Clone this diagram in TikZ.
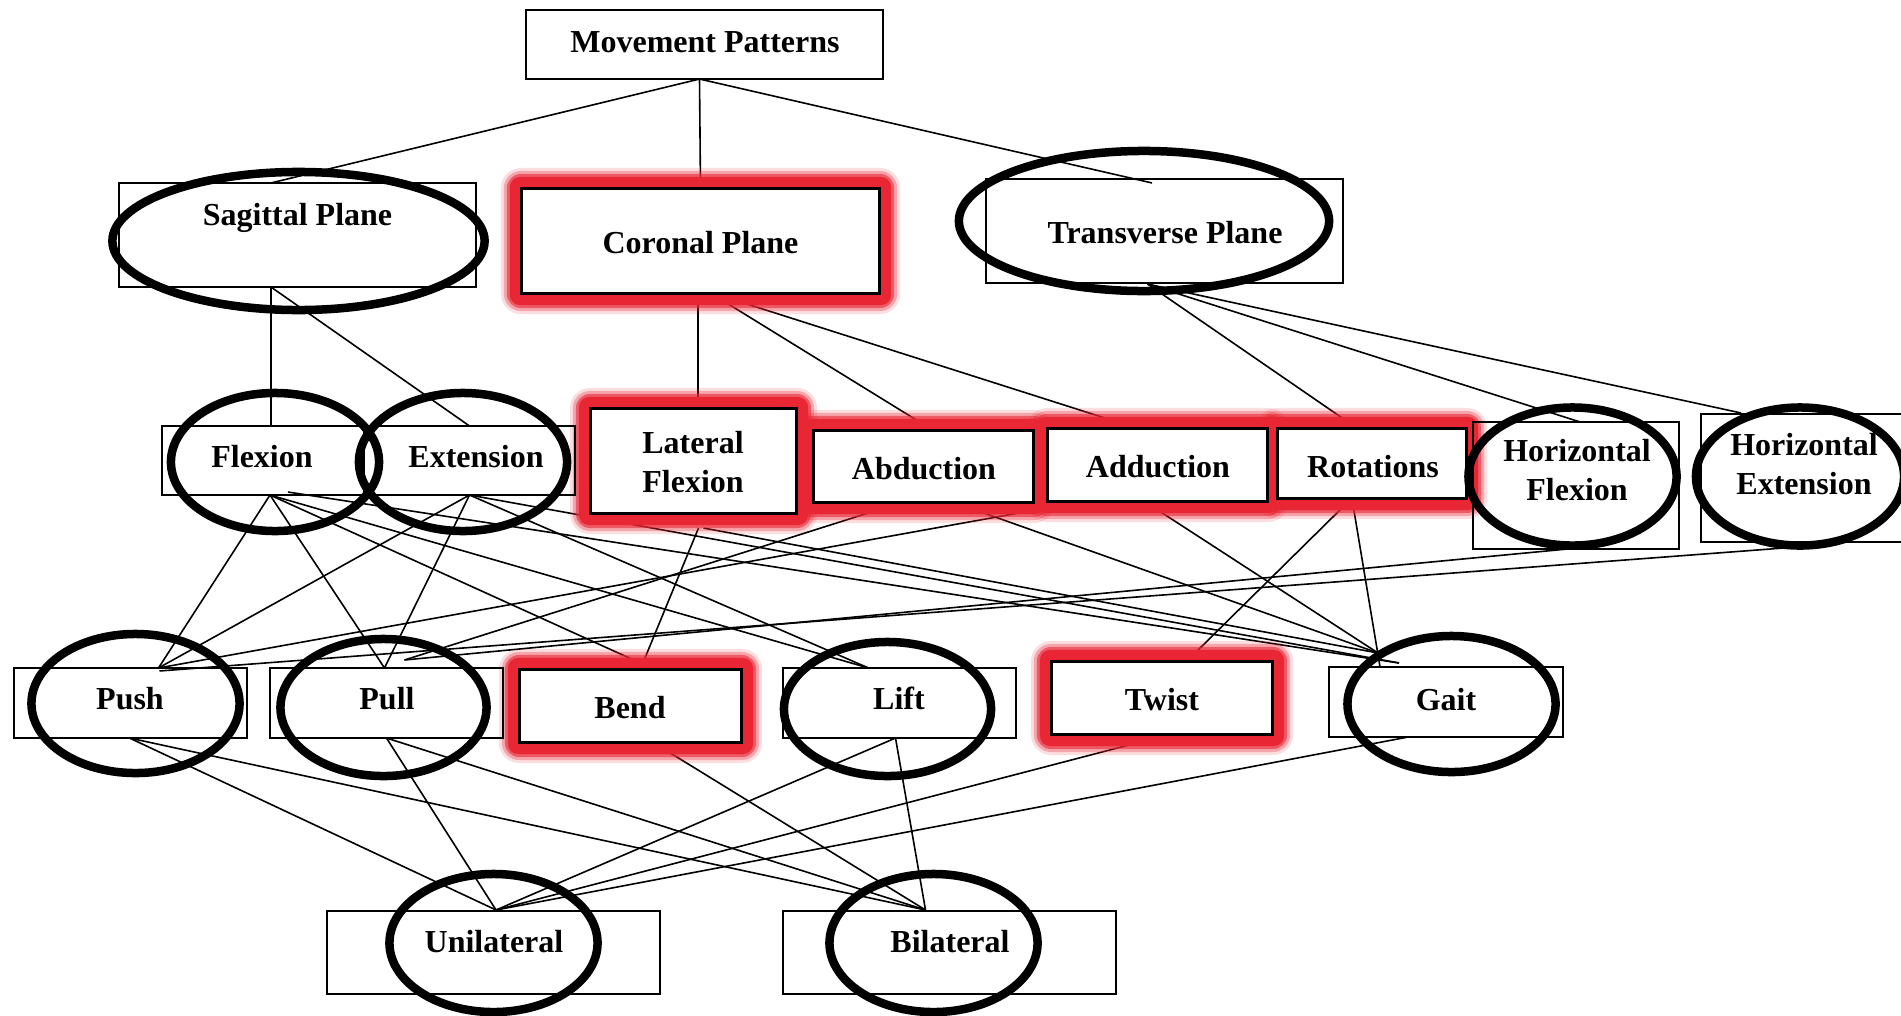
\documentclass[tikz,border=0pt]{standalone}
\usepackage{fontspec}
\setmainfont{Liberation Serif}
\usetikzlibrary{calc}
\definecolor{gred}{RGB}{232,38,52}
\pgfdeclarelayer{back}
\pgfdeclarelayer{conn}
\pgfdeclarelayer{glow}
\pgfsetlayers{back,conn,glow,main}
\newcommand\glowat[1]{%
  \fill[gred, opacity=0.15, rounded corners=0.2cm] ($(#1.south west)+(-21,21)$) rectangle ($(#1.north east)+(21,-21)$);
  \fill[gred, opacity=0.3, rounded corners=0.17cm] ($(#1.south west)+(-18,18)$) rectangle ($(#1.north east)+(18,-18)$);
  \fill[gred, opacity=0.6, rounded corners=0.14cm] ($(#1.south west)+(-15,15)$) rectangle ($(#1.north east)+(15,-15)$);
  \fill[gred, rounded corners=0.1cm] ($(#1.south west)+(-12,12)$) rectangle ($(#1.north east)+(12,-12)$);
}
\begin{document}
\begin{tikzpicture}[x=0.01cm,y=-0.01cm,
  box/.style={draw=black, line width=0.015cm, inner sep=0pt, outer sep=0pt},
  gbox/.style={draw=black, fill=white, line width=0.03cm, inner sep=0pt, outer sep=0pt},
  lbl/.style={inner sep=0pt, outer sep=0pt, font=\fontsize{9.1}{10.95}\selectfont\bfseries, anchor=base},
  conn/.style={line width=0.016cm, draw=black},
  ring/.style={line width=0.085cm, draw=black}]
\useasboundingbox (0,0) rectangle (1901,1015);
\begin{pgfonlayer}{back}\fill[white] (0,0) rectangle (1901,1015);\end{pgfonlayer}
\clip (0,0) rectangle (1901,1015);

% ---------- boxes ----------
\node[box, minimum width=3.57cm, minimum height=0.69cm] (mp) at (704.5,44.5) {};
\node[box, minimum width=3.57cm, minimum height=1.04cm] (sag) at (297.5,235) {};
\node[gbox, minimum width=3.57cm, minimum height=1.04cm] (cor) at (700.5,241) {};
\node[box, minimum width=3.57cm, minimum height=1.04cm] (trans) at (1164.5,231) {};
\node[box, minimum width=2.02cm, minimum height=0.69cm] (flex) at (263,460.5) {};
\node[box, minimum width=2.11cm, minimum height=0.69cm] (ext) at (469.5,460.5) {};
\node[gbox, minimum width=2.05cm, minimum height=1.04cm] (latflex) at (693.5,461) {};
\node[gbox, minimum width=2.19cm, minimum height=0.71cm] (abd) at (923.5,466.5) {};
\node[gbox, minimum width=2.19cm, minimum height=0.72cm] (add) at (1157.5,465) {};
\node[gbox, minimum width=1.88cm, minimum height=0.69cm] (rot) at (1372,463.5) {};
\node[box, minimum width=2.06cm, minimum height=1.27cm] (hflex) at (1576,485.5) {};
\node[box, minimum width=2.09cm, minimum height=1.28cm] (hext) at (1805.5,478) {};
\node[box, minimum width=2.33cm, minimum height=0.70cm] (push) at (130.5,703) {};
\node[box, minimum width=2.33cm, minimum height=0.70cm] (pull) at (386.5,703) {};
\node[gbox, minimum width=2.21cm, minimum height=0.72cm] (bend) at (630.5,706) {};
\node[box, minimum width=2.33cm, minimum height=0.70cm] (lift) at (899.5,703) {};
\node[gbox, minimum width=2.20cm, minimum height=0.72cm] (twist) at (1162,698) {};
\node[box, minimum width=2.34cm, minimum height=0.70cm] (gait) at (1446,702) {};
\node[box, minimum width=3.33cm, minimum height=0.83cm] (uni) at (493.5,952.5) {};
\node[box, minimum width=3.33cm, minimum height=0.83cm] (bil) at (949.5,952.5) {};

% ---------- glow ----------
\begin{pgfonlayer}{glow}
\glowat{cor}\glowat{latflex}\glowat{abd}\glowat{add}\glowat{rot}\glowat{bend}\glowat{twist}
\end{pgfonlayer}

% ---------- connection points ----------
\coordinate (mpO) at ($(mp.south)+(-5,0)$);
\coordinate (sagT) at ($(sag.north)+(-26.5,0)$);
\coordinate (transT) at ($(trans.north)+(-12.5,4)$);
\coordinate (sagO) at ($(sag.south)+(-26.5,0)$);
\coordinate (flexT) at ($(flex.north)+(8,0)$);
\coordinate (corA) at ($(cor.south)+(-2.5,0)$);
\coordinate (corB) at ($(cor.south)+(10,0)$);
\coordinate (corC) at ($(cor.south)+(12,0)$);
\coordinate (lfT) at ($(latflex.north)+(4.5,0)$);
\coordinate (abdT) at ($(abd.north)+(1,-6)$);
\coordinate (addT) at ($(add.north)+(-37,-6)$);
\coordinate (trO) at ($(trans.south)+(-17,1)$);
\coordinate (rotT) at ($(rot.north)+(-24,-7)$);
\coordinate (hfT) at ($(hflex.north)+(4,0)$);
\coordinate (hxT) at ($(hext.north)+(-64.5,-1)$);
\coordinate (F) at ($(flex.south)+(7,0)$);
\coordinate (S) at ($(flex.south)+(25,-3)$);
\coordinate (E) at (ext.south);
\coordinate (LF1) at ($(latflex.south)+(5,15)$);
\coordinate (LF2) at ($(latflex.south)+(10,15)$);
\coordinate (AB1) at ($(abd.south)+(-36.5,5)$);
\coordinate (AB2) at ($(abd.south)+(43.5,5)$);
\coordinate (AD1) at ($(add.south)+(-94.5,4)$);
\coordinate (AD2) at ($(add.south)+(-7.5,4)$);
\coordinate (R1) at ($(rot.south)+(-25,5)$);
\coordinate (R2) at ($(rot.south)+(-19,7)$);
\coordinate (HF) at ($(hflex.south)+(-9,0)$);
\coordinate (HX) at ($(hext.south)+(-22.5,6)$);
\coordinate (PT) at ($(push.north)+(28,0)$);
\coordinate (PT2) at ($(push.north)+(29,3)$);
\coordinate (QT) at ($(pull.north)+(-2,0)$);
\coordinate (QT2) at ($(pull.north)+(18,-8)$);
\coordinate (BT) at ($(bend.north)+(12,-6)$);
\coordinate (LT) at ($(lift.north)+(-31,0)$);
\coordinate (TT) at ($(twist.north)+(31,-7)$);
\coordinate (G1) at ($(gait.north)+(-68,-14)$);
\coordinate (G2) at ($(gait.north)+(-47,-4)$);
\coordinate (G3) at ($(gait.north)+(-66,0)$);
\coordinate (PB) at ($(push.south)+(-1,0)$);
\coordinate (QB) at (pull.south);
\coordinate (BB) at ($(bend.south)+(22,0)$);
\coordinate (LB) at ($(lift.south)+(-4,0)$);
\coordinate (TB) at ($(twist.south)+(9,0)$);
\coordinate (GB) at ($(gait.south)+(-38,0)$);
\coordinate (UT) at ($(uni.north)+(2.5,-1)$);
\coordinate (BLT) at ($(bil.north)+(-24,-1)$);

% ---------- connectors ----------
\begin{pgfonlayer}{conn}
\draw[conn] (mpO) -- (sagT);
\draw[conn] (mpO) -- (cor.north);
\draw[conn] (mpO) -- (transT);
\draw[conn] (sagO) -- (flexT);
\draw[conn] (sagO) -- (ext.north);
\draw[conn] (corA) -- (lfT);
\draw[conn] (corB) -- (abdT);
\draw[conn] (corC) -- (addT);
\draw[conn] (trO) -- (rotT);
\draw[conn] (trO) -- (hfT);
\draw[conn] (trO) -- (hxT);
\draw[conn] (F) -- (PT);
\draw[conn] (F) -- (QT);
\draw[conn] (F) -- (BT);
\draw[conn] (F) -- (LT);
\draw[conn] (S) -- (G2);
\draw[conn] (E) -- (PT);
\draw[conn] (E) -- (QT);
\draw[conn] (E) -- (LT);
\draw[conn] (E) -- (G2);
\draw[conn] (LF1) -- (BT);
\draw[conn] (LF2) -- (G1);
\draw[conn] (AB1) -- (QT2);
\draw[conn] (AB2) -- (G1);
\draw[conn] (AD1) -- (PT);
\draw[conn] (AD2) -- (G1);
\draw[conn] (R1) -- (TT);
\draw[conn] (R2) -- (G3);
\draw[conn] (HF) -- (QT2);
\draw[conn] (HX) -- (PT2);
\draw[conn] (PB) -- (UT);
\draw[conn] (PB) -- (BLT);
\draw[conn] (QB) -- (UT);
\draw[conn] (QB) -- (BLT);
\draw[conn] (BB) -- (BLT);
\draw[conn] (LB) -- (UT);
\draw[conn] (LB) -- (BLT);
\draw[conn] (TB) -- (UT);
\draw[conn] (GB) -- (UT);
\end{pgfonlayer}

% ---------- ellipses ----------
\draw[ring] (298.5,241) ellipse [x radius=1.86cm, y radius=0.69cm];
\draw[ring] (1144,221) ellipse [x radius=1.85cm, y radius=0.70cm];
\draw[ring] (275,462) ellipse [x radius=1.04cm, y radius=0.69cm];
\draw[ring] (463,462) ellipse [x radius=1.04cm, y radius=0.69cm];
\draw[ring] (1572.5,476.5) ellipse [x radius=1.04cm, y radius=0.69cm];
\draw[ring] (1800,476.5) ellipse [x radius=1.04cm, y radius=0.69cm];
\draw[ring] (135.5,703.5) ellipse [x radius=1.04cm, y radius=0.695cm];
\draw[ring] (383.5,707.5) ellipse [x radius=1.03cm, y radius=0.685cm];
\draw[ring] (887.5,709) ellipse [x radius=1.035cm, y radius=0.67cm];
\draw[ring] (1451.5,704) ellipse [x radius=1.04cm, y radius=0.68cm];
\draw[ring] (493.5,943) ellipse [x radius=1.04cm, y radius=0.69cm];
\draw[ring] (933.5,943) ellipse [x radius=1.04cm, y radius=0.69cm];

% ---------- labels ----------
\node[lbl] (tMP) at (705,52) {Movement Patterns};
\node[lbl] (tSag) at (297.5,225) {Sagittal Plane};
\node[lbl] (tCor) at (700.5,253) {Coronal Plane};
\node[lbl] (tTrans) at (1165,243) {Transverse Plane};
\node[lbl] (tFlex) at (262,467) {Flexion};
\node[lbl] (tExt) at (476,467) {Extension};
\node[lbl] (tLat) at (693,492) {\begin{tabular}[b]{@{}c@{}}Lateral\\Flexion\end{tabular}};
\node[lbl] (tAbd) at (924,479) {Abduction};
\node[lbl] (tAdd) at (1158,477) {Adduction};
\node[lbl] (tRot) at (1373,477) {Rotations};
\node[lbl] (tHF) at (1577,500) {\begin{tabular}[b]{@{}c@{}}Horizontal\\Flexion\end{tabular}};
\node[lbl] (tHX) at (1804,494) {\begin{tabular}[b]{@{}c@{}}Horizontal\\Extension\end{tabular}};
\node[lbl] (tPush) at (130,709) {Push};
\node[lbl] (tPull) at (387,709) {Pull};
\node[lbl] (tBend) at (630,718) {Bend};
\node[lbl] (tLift) at (899,709) {Lift};
\node[lbl] (tTwist) at (1162,710) {Twist};
\node[lbl] (tGait) at (1446,710) {Gait};
\node[lbl] (tUni) at (494,952) {Unilateral};
\node[lbl] (tBil) at (950,952) {Bilateral};
\end{tikzpicture}
\end{document}
